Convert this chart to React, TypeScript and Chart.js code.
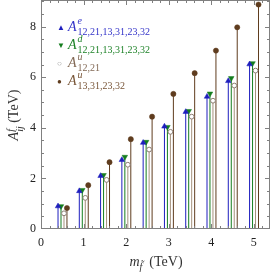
import React, { useEffect, useRef } from "react";
import { Chart, registerables } from "chart.js";

Chart.register(...registerables);

const masses = [0.5, 1.0, 1.5, 2.0, 2.5, 3.0, 3.5, 4.0, 4.5, 5.0];
const aE = [0.9, 1.5, 2.1, 2.73, 3.41, 4.05, 4.63, 5.23, 5.85, 6.51];
const aD = [0.9, 1.54, 2.13, 2.85, 3.44, 4.03, 4.66, 5.35, 5.96, 6.55];
const aU12 = [0.62, 1.23, 1.94, 2.54, 3.14, 3.84, 4.44, 5.07, 5.67, 6.26];
const aU13 = [0.83, 1.73, 2.64, 3.55, 4.44, 5.34, 6.16, 7.05, 7.97, 8.87];
const offsets = [-0.1, -0.03, 0.04, 0.11];
const yTicks = [0, 2, 4, 6, 8];
const xTicks = [0, 1, 2, 3, 4, 5];

const BLUE = "rgb(30,30,190)";
const GREEN = "rgb(20,125,30)";
const TAN = "rgb(165,145,125)";
const BROWN = "rgb(95,60,30)";

function stems(vals: number[], off: number) {
  const out: any[] = [];
  vals.forEach((v, i) => {
    const x = masses[i] + off;
    out.push({ x, y: 0 }, { x, y: v }, { x, y: null });
  });
  return out;
}
function tips(vals: number[], off: number) {
  return vals.map((v, i) => ({ x: masses[i] + off, y: v }));
}

const framePlugin = {
  id: "frameTicks",
  afterDatasetsDraw(chart: any) {
    const { ctx, chartArea: a, scales } = chart;
    const xs = scales.x, ys = scales.y;
    ctx.save();
    ctx.strokeStyle = "#808080";
    ctx.lineWidth = 1;
    ctx.strokeRect(a.left + 0.5, a.top + 0.5, a.right - a.left - 1, a.bottom - a.top - 1);
    ctx.beginPath();
    for (let v = 0; v <= 9.0001; v += 0.5) {
      const p = Math.round(ys.getPixelForValue(v)) + 0.5;
      if (p < a.top || p > a.bottom) continue;
      const L = Math.abs(v % 2) < 1e-6 ? 5 : 3;
      ctx.moveTo(a.left, p); ctx.lineTo(a.left + L, p);
      ctx.moveTo(a.right, p); ctx.lineTo(a.right - L, p);
    }
    for (let v = 0; v <= 5.4; v += 0.2) {
      const p = Math.round(xs.getPixelForValue(v)) + 0.5;
      if (p < a.left || p > a.right) continue;
      const L = Math.abs(v - Math.round(v)) < 1e-6 ? 5 : 3;
      ctx.moveTo(p, a.bottom); ctx.lineTo(p, a.bottom - L);
      ctx.moveTo(p, a.top); ctx.lineTo(p, a.top + L);
    }
    ctx.stroke();
    ctx.restore();
  },
};

const zeroPad = (s: any) => {
  s.paddingTop = 0;
  s.paddingBottom = 0;
  s.paddingLeft = 0;
  s.paddingRight = 0;
};

export default function App() {
  const ref = useRef<HTMLCanvasElement>(null);
  useEffect(() => {
    const stemDs = (vals: number[], off: number, color: string) => ({
      type: "line" as const,
      data: stems(vals, off),
      borderColor: color,
      borderWidth: 1,
      pointRadius: 0,
      spanGaps: false,
      order: 2,
    });
    const chart = new Chart(ref.current!, {
      type: "scatter",
      data: {
        datasets: [
          stemDs(aE, offsets[0], BLUE),
          stemDs(aD, offsets[1], GREEN),
          stemDs(aU12, offsets[2], TAN),
          stemDs(aU13, offsets[3], BROWN),
          {
            data: tips(aE, offsets[0]),
            pointStyle: "triangle",
            pointRadius: 3.2,
            backgroundColor: BLUE,
            borderColor: BLUE,
            borderWidth: 0.5,
            order: 1,
          },
          {
            data: tips(aD, offsets[1]),
            pointStyle: "triangle",
            rotation: 180,
            pointRadius: 3.2,
            backgroundColor: GREEN,
            borderColor: GREEN,
            borderWidth: 0.5,
            order: 1,
          },
          {
            data: tips(aU12, offsets[2]),
            pointStyle: "circle",
            pointRadius: 2.4,
            backgroundColor: "#ffffff",
            borderColor: "rgb(140,125,115)",
            borderWidth: 1,
            order: 1,
          },
          {
            data: tips(aU13, offsets[3]),
            pointStyle: "circle",
            pointRadius: 2.6,
            backgroundColor: BROWN,
            borderColor: BROWN,
            borderWidth: 0.5,
            order: 1,
          },
        ] as any,
      },
      options: {
        animation: false,
        responsive: false,
        events: [],
        layout: { autoPadding: false, padding: { top: 0, right: 1, left: 0, bottom: 0 } },
        plugins: { legend: { display: false }, tooltip: { enabled: false } },
        scales: {
          x: {
            type: "linear",
            min: 0,
            max: 5.38,
            grid: { display: false, drawTicks: false },
            border: { display: false },
            afterBuildTicks: (s: any) => { s.ticks = xTicks.map((v) => ({ value: v })); },
            afterFit: (s: any) => { s.height = 45; zeroPad(s); },
            ticks: {
              color: "#222",
              padding: 7,
              maxRotation: 0,
              font: { family: "Liberation Serif", size: 12 },
            },
          },
          y: {
            type: "linear",
            min: 0,
            max: 9.05,
            grid: { display: false, drawTicks: false },
            border: { display: false },
            afterBuildTicks: (s: any) => { s.ticks = yTicks.map((v) => ({ value: v })); },
            afterFit: (s: any) => { s.width = 41; zeroPad(s); },
            ticks: {
              color: "#222",
              padding: 5,
              font: { family: "Liberation Serif", size: 12 },
            },
          },
        },
      },
      plugins: [framePlugin],
    });
    return () => chart.destroy();
  }, []);

  const serif = "'Liberation Serif', serif";
  const row = (top: number, marker: React.ReactNode, color: string, sup: string, sub: string) => (
    <div style={{ position: "absolute", left: 57, top, color, fontFamily: serif, fontSize: 14, lineHeight: "14px", whiteSpace: "nowrap" }}>
      <span style={{ display: "inline-block", width: 11, fontSize: 8, verticalAlign: "middle", fontStyle: "normal" }}>{marker}</span>
      <i>A</i>
      <span style={{ display: "inline-flex", flexDirection: "column", verticalAlign: "top", marginLeft: 1, lineHeight: "10px" }}>
        <i style={{ fontSize: 10, position: "relative", top: -4 }}>{sup}</i>
        <span style={{ fontSize: 10, position: "relative", top: -3 }}>{sub}</span>
      </span>
    </div>
  );

  return (
    <div style={{ position: "fixed", left: 0, top: 0, width: 271, height: 274, background: "#fff" }}>
      <canvas ref={ref} width={271} height={274} style={{ display: "block" }} />
      {row(20, <span style={{ color: BLUE }}>▲</span>, "rgb(50,50,200)", "e", "12,21,13,31,23,32")}
      {row(38, <span style={{ color: GREEN }}>▼</span>, "rgb(30,130,40)", "d", "12,21,13,31,23,32")}
      {row(56, <span style={{ color: "#999" }}>○</span>, "rgb(130,105,85)", "u", "12,21")}
      {row(74, <span style={{ color: BROWN }}>●</span>, "rgb(120,85,55)", "u", "13,31,23,32")}
      <div style={{ position: "absolute", left: 15, top: 115, transform: "translate(-50%,-50%) rotate(-90deg)", fontFamily: serif, fontSize: 14, color: "#333", whiteSpace: "nowrap" }}>
        <i>A</i>
        <span style={{ display: "inline-flex", flexDirection: "column", verticalAlign: "top", lineHeight: "9px" }}>
          <i style={{ fontSize: 10 }}>f</i>
          <i style={{ fontSize: 10 }}>ij</i>
        </span>
        {"\u00a0(TeV)"}
      </div>
      <div style={{ position: "absolute", left: 156, top: 262, transform: "translate(-50%,-50%)", fontFamily: serif, fontSize: 14, color: "#333", whiteSpace: "nowrap" }}>
        <i>m</i>
        <i style={{ fontSize: 10, position: "relative", top: 4 }}>f̃</i>
        {"\u00a0\u00a0(TeV)"}
      </div>
    </div>
  );
}
